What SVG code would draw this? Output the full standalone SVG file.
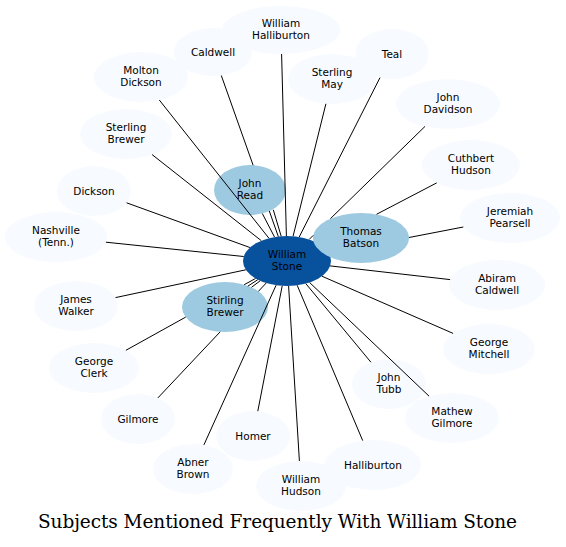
<svg xmlns="http://www.w3.org/2000/svg" width="566" height="547" viewBox="0 0 566 547">
<style>
.o{fill:#f7fbff}
.m{fill:#9ecae1}
.d{fill:#08519c}
text{font-family:"DejaVu Sans","Liberation Sans",sans-serif;font-size:10.5px;fill:#000;text-anchor:middle}
.title{font-family:"DejaVu Serif","Liberation Serif",serif;font-size:18.5px}
#edges line{stroke:#000;stroke-width:1}
</style>
<rect width="566" height="547" fill="#fff"/>
<g id="nodes">
<g id="william-stone"><ellipse class="d" cx="287" cy="261" rx="44" ry="25"/><text x="287" y="258">William</text><text x="287" y="270">Stone</text></g>
<g id="thomas-batson"><ellipse class="m" cx="361" cy="238" rx="48" ry="25"/><text x="361" y="235">Thomas</text><text x="361" y="247">Batson</text></g>
<g id="john-read"><ellipse class="m" cx="250" cy="190" rx="36" ry="25"/><text x="250" y="187">John</text><text x="250" y="199">Read</text></g>
<g id="stirling-brewer"><ellipse class="m" cx="225" cy="307" rx="43" ry="25"/><text x="225" y="304">Stirling</text><text x="225" y="316">Brewer</text></g>
<g id="william-halliburton"><ellipse class="o" cx="281" cy="30" rx="59" ry="24"/><text x="281" y="27">William</text><text x="281" y="39">Halliburton</text></g>
<g id="caldwell"><ellipse class="o" cx="213" cy="52" rx="39" ry="24"/><text x="213" y="55.5">Caldwell</text></g>
<g id="molton-dickson"><ellipse class="o" cx="141" cy="77" rx="47" ry="25"/><text x="141" y="74">Molton</text><text x="141" y="86">Dickson</text></g>
<g id="sterling-brewer"><ellipse class="o" cx="126" cy="134" rx="46" ry="25"/><text x="126" y="131">Sterling</text><text x="126" y="143">Brewer</text></g>
<g id="dickson"><ellipse class="o" cx="94" cy="191" rx="37" ry="25"/><text x="94" y="194.5">Dickson</text></g>
<g id="nashville"><ellipse class="o" cx="56" cy="237" rx="51" ry="25"/><text x="56" y="234">Nashville</text><text x="56" y="246">(Tenn.)</text></g>
<g id="james-walker"><ellipse class="o" cx="76" cy="306" rx="42" ry="25"/><text x="76" y="303">James</text><text x="76" y="315">Walker</text></g>
<g id="george-clerk"><ellipse class="o" cx="94" cy="368" rx="45" ry="25"/><text x="94" y="365">George</text><text x="94" y="377">Clerk</text></g>
<g id="gilmore"><ellipse class="o" cx="138" cy="419" rx="37" ry="25"/><text x="138" y="422.5">Gilmore</text></g>
<g id="abner-brown"><ellipse class="o" cx="193" cy="469" rx="40" ry="25"/><text x="193" y="466">Abner</text><text x="193" y="478">Brown</text></g>
<g id="homer"><ellipse class="o" cx="253" cy="436" rx="37" ry="25"/><text x="253" y="439.5">Homer</text></g>
<g id="william-hudson"><ellipse class="o" cx="301" cy="486" rx="45" ry="25"/><text x="301" y="483">William</text><text x="301" y="495">Hudson</text></g>
<g id="halliburton"><ellipse class="o" cx="373" cy="465" rx="48" ry="25"/><text x="373" y="468.5">Halliburton</text></g>
<g id="john-tubb"><ellipse class="o" cx="389" cy="384" rx="37" ry="25"/><text x="389" y="381">John</text><text x="389" y="393">Tubb</text></g>
<g id="mathew-gilmore"><ellipse class="o" cx="452" cy="418" rx="47" ry="25"/><text x="452" y="415">Mathew</text><text x="452" y="427">Gilmore</text></g>
<g id="george-mitchell"><ellipse class="o" cx="489" cy="349" rx="46" ry="25"/><text x="489" y="346">George</text><text x="489" y="358">Mitchell</text></g>
<g id="abiram-caldwell"><ellipse class="o" cx="497" cy="285" rx="48" ry="25"/><text x="497" y="282">Abiram</text><text x="497" y="294">Caldwell</text></g>
<g id="jeremiah-pearsell"><ellipse class="o" cx="510" cy="218" rx="50" ry="25"/><text x="510" y="215">Jeremiah</text><text x="510" y="227">Pearsell</text></g>
<g id="cuthbert-hudson"><ellipse class="o" cx="471" cy="165" rx="49" ry="25"/><text x="471" y="162">Cuthbert</text><text x="471" y="174">Hudson</text></g>
<g id="john-davidson"><ellipse class="o" cx="448" cy="104" rx="52" ry="25"/><text x="448" y="101">John</text><text x="448" y="113">Davidson</text></g>
<g id="teal"><ellipse class="o" cx="392" cy="54" rx="37" ry="25"/><text x="392" y="57.5">Teal</text></g>
<g id="sterling-may"><ellipse class="o" cx="332" cy="79" rx="44" ry="25"/><text x="332" y="76">Sterling</text><text x="332" y="88">May</text></g>
</g>
<g id="edges">
<line x1="281.6" y1="54" x2="286.4" y2="236"/>
<line x1="221.3" y1="75.5" x2="253.1" y2="165.2"/>
<line x1="269.3" y1="211" x2="278.3" y2="236.5"/>
<line x1="262.3" y1="213.5" x2="274.5" y2="237"/>
<line x1="273.3" y1="209.8" x2="281.2" y2="236.3"/>
<line x1="159.3" y1="100" x2="268.9" y2="238.2"/>
<line x1="152.1" y1="154.6" x2="261.3" y2="240.7"/>
<line x1="126.6" y1="202.8" x2="249.9" y2="247.5"/>
<line x1="105.9" y1="242.2" x2="243.7" y2="256.5"/>
<line x1="115.5" y1="297.6" x2="245.8" y2="269.8"/>
<line x1="125.9" y1="350.3" x2="185.7" y2="317.1"/>
<line x1="244.2" y1="284.7" x2="255.5" y2="278.5"/>
<line x1="157.9" y1="397.9" x2="220.2" y2="331.8"/>
<line x1="258.4" y1="291.4" x2="266.2" y2="283"/>
<line x1="251.5" y1="287.3" x2="260.2" y2="280.8"/>
<line x1="247.8" y1="286.2" x2="257.8" y2="279.7"/>
<line x1="203.9" y1="444.9" x2="276.1" y2="285.2"/>
<line x1="257.8" y1="411.2" x2="282.2" y2="285.9"/>
<line x1="299.4" y1="461" x2="288.6" y2="286"/>
<line x1="362.7" y1="440.6" x2="297.2" y2="285.3"/>
<line x1="370.9" y1="362.2" x2="305.8" y2="283.6"/>
<line x1="429.1" y1="396.2" x2="309.6" y2="282.5"/>
<line x1="453.1" y1="333.4" x2="321.9" y2="276.2"/>
<line x1="450.1" y1="279.6" x2="330.1" y2="265.9"/>
<line x1="463.3" y1="227" x2="409" y2="237.5"/>
<line x1="436.7" y1="182.9" x2="376.5" y2="214.3"/>
<line x1="425" y1="126.4" x2="330.4" y2="218.7"/>
<line x1="313.2" y1="235.4" x2="309.2" y2="239.4"/>
<line x1="380" y1="77.6" x2="299.2" y2="237"/>
<line x1="325.9" y1="103.8" x2="293.1" y2="236.2"/>
</g>
<text class="title" x="277.5" y="528" textLength="479" lengthAdjust="spacing">Subjects Mentioned Frequently With William Stone</text>
</svg>
